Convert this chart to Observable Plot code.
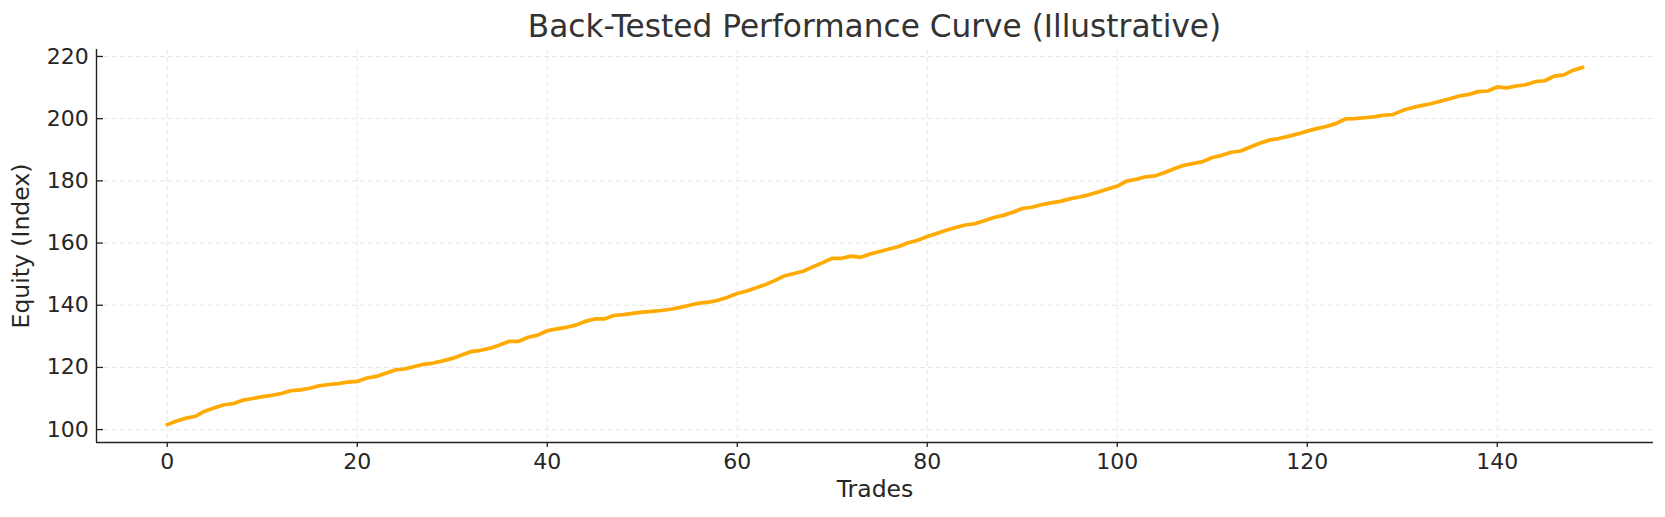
<!DOCTYPE html>
<html>
<head>
<meta charset="utf-8">
<script src="https://cdn.jsdelivr.net/npm/d3@7"></script>
<script src="https://cdn.jsdelivr.net/npm/@observablehq/plot@0.6"></script>
<style>
  body { margin: 0; background: #fff; font-family: "DejaVu Sans", sans-serif; }
  #title { box-sizing: border-box; height: 46px; padding-top: 6px; margin-left: 96px; width: 1557px; text-align: center; font-size: 31.2px; line-height: 40px; color: #333; white-space: nowrap; }
  #chart svg { display: block; }
</style>
</head>
<body>
<div id="title">Back-Tested Performance Curve (Illustrative)</div>
<div id="chart"></div>
<script>
const trades = d3.range(0, 150);
const equity = [
  101.6, 102.8, 103.7, 104.3, 106.0, 107.0, 108.0, 108.4, 109.5, 110.0,
  110.6, 111.0, 111.6, 112.5, 112.8, 113.3, 114.1, 114.5, 114.8, 115.3,
  115.5, 116.6, 117.1, 118.1, 119.2, 119.5, 120.3, 121.0, 121.4, 122.1,
  122.9, 124.0, 125.1, 125.5, 126.2, 127.2, 128.4, 128.4, 129.7, 130.4,
  131.8, 132.4, 132.9, 133.6, 134.8, 135.6, 135.6, 136.7, 137.0, 137.4,
  137.8, 138.0, 138.3, 138.7, 139.3, 140.0, 140.7, 141.0, 141.6, 142.6,
  143.8, 144.6, 145.6, 146.7, 148.0, 149.5, 150.2, 151.0, 152.4, 153.7,
  155.1, 155.1, 155.8, 155.4, 156.5, 157.3, 158.1, 158.9, 160.1, 160.9,
  162.1, 163.1, 164.1, 165.0, 165.8, 166.2, 167.2, 168.2, 168.9, 169.9,
  171.1, 171.5, 172.3, 172.9, 173.4, 174.2, 174.8, 175.5, 176.4, 177.4,
  178.3, 179.9, 180.5, 181.3, 181.6, 182.7, 183.9, 185.0, 185.6, 186.2,
  187.5, 188.2, 189.2, 189.6, 190.9, 192.1, 193.1, 193.6, 194.3, 195.1,
  196.0, 196.8, 197.5, 198.4, 199.9, 200.0, 200.3, 200.6, 201.1, 201.3,
  202.6, 203.5, 204.2, 204.8, 205.6, 206.4, 207.3, 207.8, 208.7, 208.9,
  210.2, 209.9, 210.5, 210.9, 211.9, 212.2, 213.7, 214.1, 215.6, 216.5
];
const xTicks = [0, 20, 40, 60, 80, 100, 120, 140];
const yTicks = [100, 120, 140, 160, 180, 200, 220];

const data = trades.map((t, i) => ({ trade: t, equity: equity[i] }));
const xMin = d3.min(trades), xMax = d3.max(trades);
const yMin = d3.min(equity), yMax = d3.max(equity);
const xPad = (xMax - xMin) * 0.05, yPad = (yMax - yMin) * 0.05;
const xDomain = [xMin - xPad, xMax + xPad];
const yDomain = [yMin - yPad, yMax + yPad];

const chart = Plot.plot({
  width: 1665,
  height: 471,
  marginTop: 3,
  marginLeft: 96,
  marginRight: 12,
  marginBottom: 75,
  style: { fontFamily: "DejaVu Sans, sans-serif", fontSize: "22px", color: "#262626", background: "#fff", overflow: "visible" },
  x: { domain: xDomain },
  y: { domain: yDomain },
  marks: [
    Plot.gridX(xTicks, { stroke: "#e8e8e8", strokeOpacity: 1, strokeDasharray: "5,3", strokeWidth: 1 }),
    Plot.gridY(yTicks, { stroke: "#e8e8e8", strokeOpacity: 1, strokeDasharray: "5,3", strokeWidth: 1 }),
    Plot.axisX(xTicks, { tickSize: 5, tickPadding: 6, stroke: "#222", strokeWidth: 1.3, fontSize: 22, label: null }),
    Plot.axisX({ ticks: [], label: "Trades", labelAnchor: "center", labelArrow: "none", labelOffset: 54, fontSize: 23.5 }),
    Plot.axisY(yTicks, { tickSize: -7, tickPadding: 14.7, stroke: "#222", strokeWidth: 1.3, fontSize: 22, label: null }),
    Plot.axisY({ ticks: [], label: "Equity (Index)", labelAnchor: "center", labelArrow: "none", labelOffset: 84, fontSize: 23.5 }),
    Plot.ruleX([xDomain[0]], { stroke: "#222", strokeWidth: 1.4 }),
    Plot.ruleY([yDomain[0]], { stroke: "#222", strokeWidth: 1.4 }),
    Plot.line(data, { x: "trade", y: "equity", stroke: "#ffaa00", strokeWidth: 3.7, curve: "linear" })
  ]
});
document.getElementById("chart").appendChild(chart);
</script>
</body>
</html>
